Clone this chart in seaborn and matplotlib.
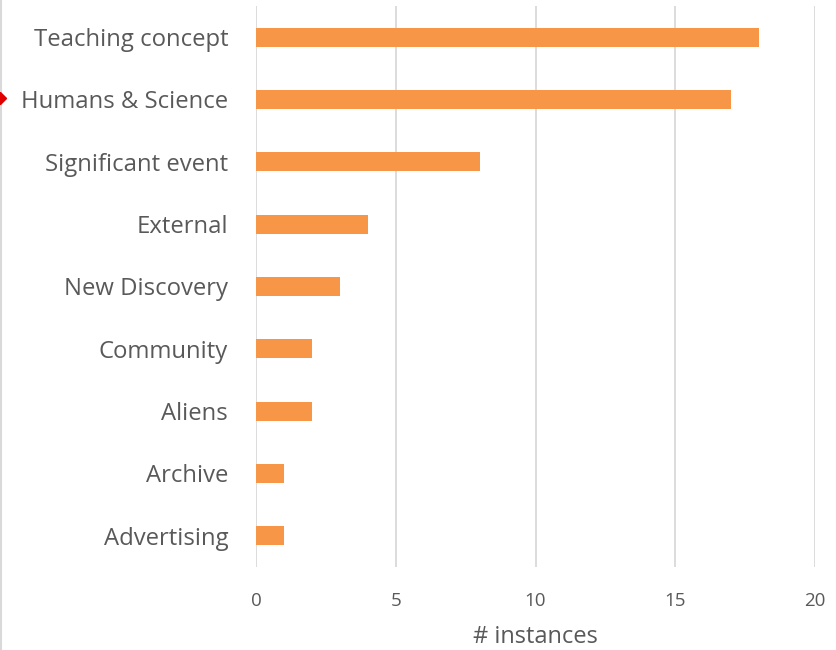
import matplotlib
matplotlib.use("Agg")
import matplotlib.pyplot as plt
import seaborn as sns
import pandas as pd

categories = ["Teaching concept", "Humans & Science", "Significant event", "External",
              "New Discovery", "Community", "Aliens", "Archive", "Advertising"]
counts = [18, 17, 8, 4, 3, 2, 2, 1, 1]
x_ticks = [0, 5, 10, 15, 20]

sns.set_theme(style="white")
plt.rcParams['font.family'] = ['Open Sans', 'DejaVu Sans']

df = pd.DataFrame({"category": categories, "count": counts})

fig = plt.figure(figsize=(8.37, 6.5), dpi=100)
ax = fig.add_axes([256/837, 1-567/650, (815-256)/837, (567-6)/650])

sns.barplot(data=df, x="count", y="category", orient="h", color="#F79646",
            width=0.3, saturation=1, ax=ax, edgecolor="none")

ax.set_xlim(0, 20)
ax.set_xticks(x_ticks)
ax.set_xticklabels([str(t) for t in x_ticks])
ax.grid(axis="x", color="#D9D9D9", linewidth=1.3)
ax.set_axisbelow(True)
for s in ax.spines.values():
    s.set_visible(False)
ax.tick_params(axis="x", length=0, pad=18, labelsize=13.5, labelcolor="#595959")
ax.tick_params(axis="y", length=0, pad=20, labelsize=17.2, labelcolor="#595959")
ax.set_ylabel("")
ax.set_xlabel("# instances", fontsize=17, color="#595959", labelpad=11)

# left chart border
fig.add_artist(plt.Line2D([0.0015, 0.0015], [0, 1], transform=fig.transFigure,
                          color="#D9D9D9", linewidth=1.5))
# small red marker at left edge
fig.add_artist(plt.Line2D([0.0], [1-98/650], transform=fig.transFigure,
                          marker="D", markersize=6, color="#E00000", linestyle="none"))

fig.savefig("out.png", dpi=100)
